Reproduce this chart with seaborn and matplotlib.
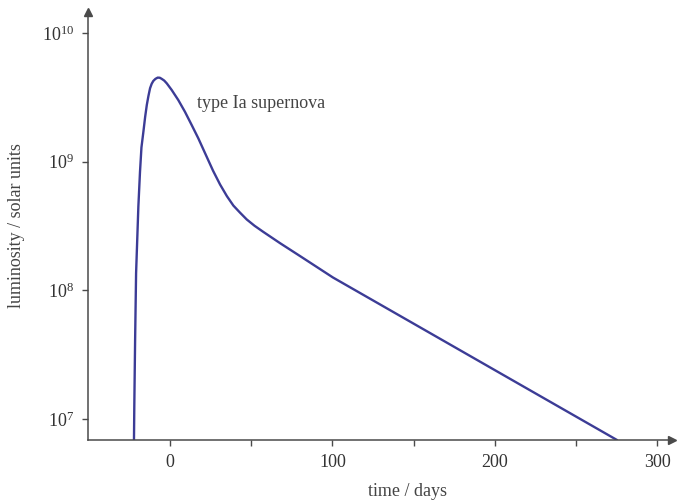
import math
import matplotlib
matplotlib.use("Agg")
import matplotlib.pyplot as plt
import seaborn as sns
import pandas as pd

days = [-22.2, -22.0, -21.5, -20.9, -19.5, -18.5, -17.6, -16.4, -15.3, -14.3, -13.3,
        -12.3, -11.3, -10.3, -9.0, -7.6, -6.3, -5.1, -3.6, -2.0, 1.0, 5.1, 9.2,
        13.3, 17.4, 22.6, 26.5, 30.8, 35.0, 39.0, 43.0, 47.2, 52.0, 57.4, 67.7,
        80.0, 100.3, 147.7, 203.1, 275.1]
luminosity = [6.9e6, 1.25e7, 4.1e7, 1.36e8, 4.48e8, 8.3e8, 1.29e9, 1.71e9, 2.24e9, 2.76e9, 3.24e9,
              3.72e9, 4.03e9, 4.24e9, 4.40e9, 4.50e9, 4.49e9, 4.40e9, 4.27e9, 4.06e9, 3.61e9, 3.01e9, 2.44e9,
              1.93e9, 1.52e9, 1.09e9, 8.5e8, 6.65e8, 5.4e8, 4.56e8, 4.03e8, 3.56e8, 3.18e8, 2.85e8, 2.33e8,
              1.85e8, 1.26e8, 5.73e7, 2.28e7, 6.89e6]
x_ticks = [0, 100, 200, 300]
x_minor = [50, 150, 250]
y_ticks = [1e7, 1e8, 1e9, 1e10]
label_text = "type Ia supernova"

df = pd.DataFrame({"time": days, "lum": luminosity})

sns.set_style("white")
plt.rcParams["font.family"] = ["Liberation Serif", "DejaVu Serif"]
plt.rcParams["mathtext.fontset"] = "custom"
plt.rcParams["mathtext.rm"] = "Liberation Serif"
plt.rcParams["mathtext.it"] = "Liberation Serif:italic"

gray = "#4a4a4a"
fig = plt.figure(figsize=(6.8, 5.04), dpi=100)
ax = fig.add_axes([88 / 680, 64 / 504, (672 - 88) / 680, (440 - 12) / 504])

sns.lineplot(data=df, x="time", y="lum", ax=ax, color="#3c3c96", linewidth=1.7,
             sort=False, estimator=None)

ax.set_yscale("log")
ax.set_xlim(-50.5, 309)
ax.set_ylim(10 ** 6.838, 10 ** 10.163)

ax.set_xticks(x_ticks)
ax.set_xticklabels([str(t) for t in x_ticks])
ax.set_xticks(x_minor, minor=True)
ax.set_yticks(y_ticks)
ax.set_yticklabels([r"$10^{%d}$" % int(round(math.log10(v))) for v in y_ticks])
ax.yaxis.set_minor_locator(matplotlib.ticker.NullLocator())

ax.tick_params(axis="both", which="both", direction="out", length=4, width=1,
               color=gray, labelcolor="#333333", labelsize=13, pad=6,
               bottom=True, left=True)
ax.tick_params(axis="x", which="minor", labelbottom=False)

for s in ["top", "right"]:
    ax.spines[s].set_visible(False)
for s in ["left", "bottom"]:
    ax.spines[s].set_color(gray)
    ax.spines[s].set_linewidth(1.1)

# arrows
ax.plot(1, 0, ">", transform=ax.transAxes, clip_on=False, color=gray, markersize=6)
ax.plot(0, 1, "^", transform=ax.transAxes, clip_on=False, color=gray, markersize=6)

ax.set_xlabel("time / days", fontsize=13, color="#444444")
ax.set_ylabel("luminosity / solar units", fontsize=13, color="#444444", labelpad=12)
ax.xaxis.set_label_coords((408 - 88) / 584, (440 - 491) / 428)
ax.xaxis.label.set_va("center")

ax.text(16.6, 10 ** 9.45, label_text, fontsize=13, color="#444444", ha="left", va="center")

fig.savefig("out.png", dpi=100)
